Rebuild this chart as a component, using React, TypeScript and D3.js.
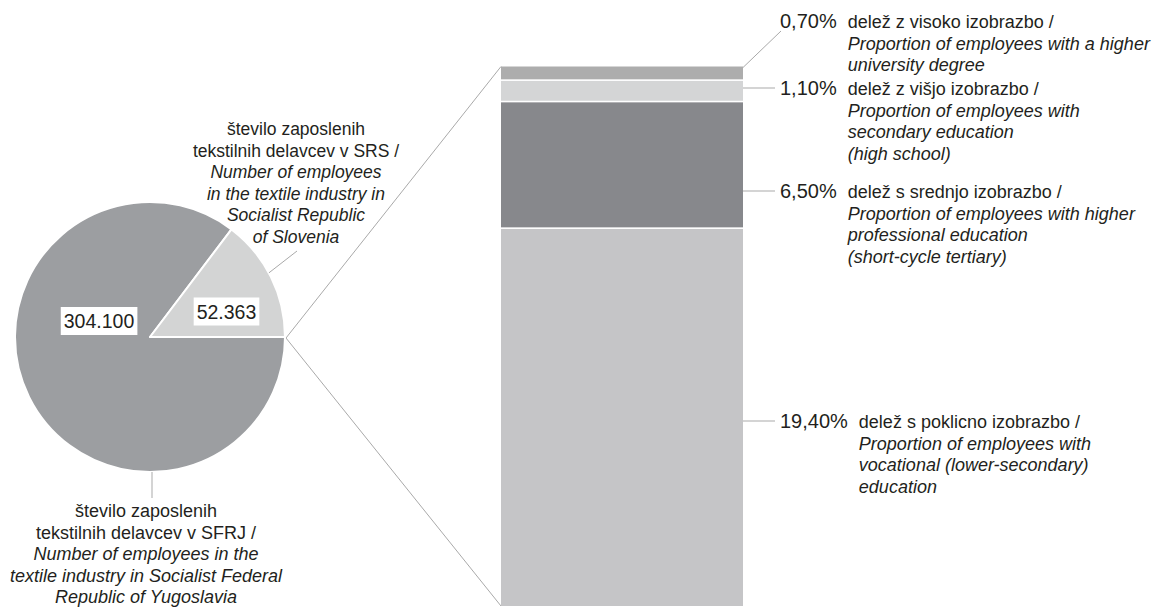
import React, { useEffect, useRef } from "react";
import * as d3 from "d3";

// pie: employees in Yugoslavia (rest) vs Slovenia
const pieValues = [304100, 52363];
const pieLabels = ["304.100", "52.363"];
const pieColors = ["#9c9ea1", "#d3d4d4"];

const sfrjSlo = ["število zaposlenih", "tekstilnih delavcev v SFRJ /"];
const sfrjEng = ["Number of employees in the", "textile industry in Socialist Federal", "Republic of Yugoslavia"];
const srsSlo = ["število zaposlenih", "tekstilnih delavcev v SRS /"];
const srsEng = ["Number of employees", "in the textile industry in", "Socialist Republic", "of Slovenia"];

// bar: shares by education, bottom to top
const shareValues = [19.4, 6.5, 1.1, 0.7];
const shareLabels = ["19,40%", "6,50%", "1,10%", "0,70%"];
const shareColors = ["#c5c5c7", "#87888c", "#d4d5d6", "#adadad"];
const shareSlo = [
  "delež s poklicno izobrazbo /",
  "delež s srednjo izobrazbo /",
  "delež z višjo izobrazbo /",
  "delež z visoko izobrazbo /",
];
const shareEng = [
  ["Proportion of employees with", "vocational (lower-secondary)", "education"],
  ["Proportion of employees with higher", "professional education", "(short-cycle tertiary)"],
  ["Proportion of employees with", "secondary education", "(high school)"],
  ["Proportion of employees with a higher", "university degree"],
];

// layout
const W = 1159;
const H = 607;
const cx = 150;
const cy = 337;
const R = 135;
const barX0 = 501;
const barX1 = 743;
const barTop = 66.5;
const barBottom = 606;
const labelBase = [428, 198, 95, 28];
const pieLabelPos = [
  [-51, -16],
  [76.5, -25.5],
];
const LH = 21.5;
const font = "Arial, 'Liberation Sans', Helvetica, sans-serif";
const ink = "#231f20";
const lineCol = "#a9a9a9";

export default function App() {
  const ref = useRef<SVGSVGElement>(null);

  useEffect(() => {
    const svg = d3.select(ref.current);
    svg.selectAll("*").remove();

    // connectors pie -> bar
    svg.append("line").attr("x1", cx + R + 1).attr("y1", cy + 1).attr("x2", barX0).attr("y2", barTop)
      .attr("stroke", lineCol).attr("stroke-width", 1);
    svg.append("line").attr("x1", cx + R + 1).attr("y1", cy + 1).attr("x2", barX0).attr("y2", barBottom)
      .attr("stroke", lineCol).attr("stroke-width", 1);

    // pie
    const pie = d3.pie<number>().sort(null).startAngle(Math.PI / 2).endAngle(Math.PI / 2 + 2 * Math.PI);
    const arcs = pie(pieValues);
    const arc = d3.arc<d3.PieArcDatum<number>>().innerRadius(0).outerRadius(R);
    const g = svg.append("g").attr("transform", `translate(${cx},${cy})`);
    g.selectAll("path").data(arcs).enter().append("path")
      .attr("d", arc as any)
      .attr("fill", (d, i) => pieColors[i])
      .attr("stroke", "#fff").attr("stroke-width", 2).attr("stroke-linejoin", "round");

    // pie value labels in white boxes
    arcs.forEach((d, i) => {
      const [dx, dy] = pieLabelPos[i];
      const t = g.append("text").attr("x", dx).attr("y", dy + 7)
        .attr("text-anchor", "middle").attr("font-family", font).attr("font-size", 19.5)
        .attr("fill", ink).text(pieLabels[i]);
      const bb = (t.node() as SVGTextElement).getBBox();
      g.insert("rect", () => t.node())
        .attr("x", bb.x - 3).attr("y", dy - 14).attr("width", bb.width + 6).attr("height", 28)
        .attr("fill", "#fff");
    });

    // pie leaders
    const light = arcs[1];
    const mid = (light.startAngle + light.endAngle) / 2;
    svg.append("line")
      .attr("x1", cx + R * Math.sin(mid) - 2).attr("y1", cy - R * Math.cos(mid) - 4)
      .attr("x2", 297).attr("y2", 251)
      .attr("stroke", lineCol).attr("stroke-width", 1);
    svg.append("line").attr("x1", cx + 2).attr("y1", cy + R).attr("x2", cx + 2).attr("y2", cy + R + 26)
      .attr("stroke", lineCol).attr("stroke-width", 1);

    const block = (x: number, y0: number, slo: string[], eng: string[], anchor: string, size: number) => {
      const t = svg.append("text").attr("font-family", font).attr("font-size", size)
        .attr("fill", ink).attr("text-anchor", anchor);
      slo.concat(eng).forEach((s, i) => {
        t.append("tspan").attr("x", x).attr("y", y0 + i * LH)
          .attr("font-style", i < slo.length ? "normal" : "italic").text(s);
      });
    };
    block(296, 135, srsSlo, srsEng, "middle", 17.5);
    block(146, 517, sfrjSlo, sfrjEng, "middle", 18);

    // stacked bar
    const total = d3.sum(shareValues);
    const y = d3.scaleLinear().domain([0, total]).range([barBottom, barTop]);
    const stacks = d3.cumsum(shareValues);
    shareValues.forEach((v, i) => {
      const top = y(stacks[i]);
      const bot = y(stacks[i] - v);
      svg.append("rect").attr("x", barX0).attr("width", barX1 - barX0)
        .attr("y", top + (i < shareValues.length - 1 ? 0.8 : 0))
        .attr("height", bot - top - (i < shareValues.length - 1 ? 0.8 : 0) - (i > 0 ? 0.8 : 0))
        .attr("fill", shareColors[i]);
    });

    // bar labels
    shareValues.forEach((v, i) => {
      const base = labelBase[i];
      const ly = base - 7;
      if (i === shareValues.length - 1) {
        svg.append("line").attr("x1", barX1).attr("y1", y(total) + 1).attr("x2", 781).attr("y2", base + 3)
          .attr("stroke", lineCol).attr("stroke-width", 1);
      } else {
        svg.append("line").attr("x1", barX1).attr("y1", ly).attr("x2", 775).attr("y2", ly)
          .attr("stroke", lineCol).attr("stroke-width", 1);
      }
      const p = svg.append("text").attr("x", 780).attr("y", base).attr("font-family", font)
        .attr("font-size", 20).attr("fill", ink).text(shareLabels[i]);
      const w = (p.node() as SVGTextElement).getComputedTextLength();
      block(780 + w + 11, base, [shareSlo[i]], shareEng[i], "start", 18);
    });
  }, []);

  return (
    <svg ref={ref} width={W} height={H}
      style={{ position: "absolute", left: 0, top: 0, background: "#fff" }} />
  );
}
